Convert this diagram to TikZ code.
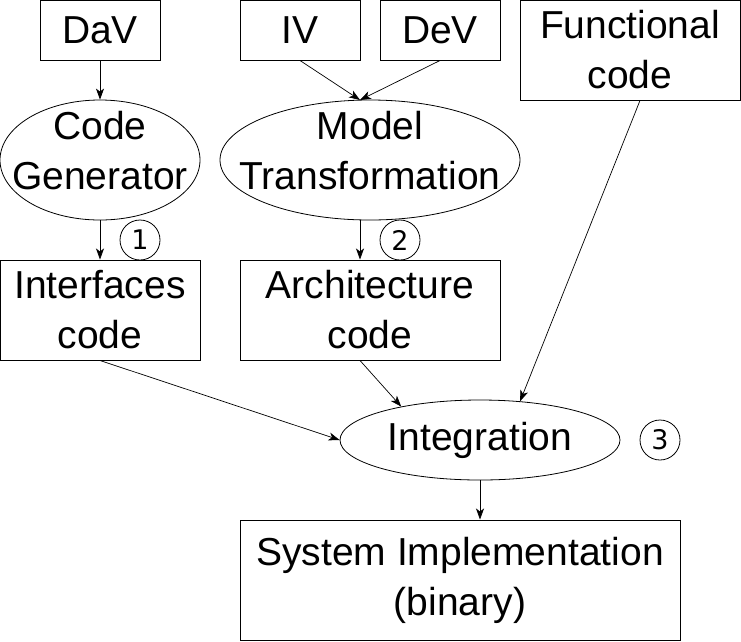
\documentclass[tikz,border=0pt]{standalone}
\usepackage{fontspec}
\setmainfont{Liberation Sans}
\newfontfamily\numfont{DejaVu Sans}
\usetikzlibrary{shapes.geometric,arrows.meta}
\begin{document}
\begin{tikzpicture}[x=1pt,y=-1pt,
  every node/.style={font=\fontsize{39}{50}\selectfont, align=center},
  box/.style={draw, line width=1pt, inner sep=0pt, minimum width=#1},
  ell/.style={draw, ellipse, line width=0.8pt, inner sep=0pt},
  num/.style={draw, circle, line width=0.8pt, inner sep=0pt, minimum size=40pt, font=\numfont\fontsize{27}{27}\selectfont},
  arr/.style={-{Stealth[length=11pt,width=8pt,inset=3pt]}, line width=0.7pt}]
\useasboundingbox (0,0) rectangle (741,641);
% top row
\node[box=120pt, minimum height=60pt] (dav) at (100,30) {DaV};
\node[box=120pt, minimum height=60pt] (iv) at (300,30) {IV};
\node[box=120pt, minimum height=60pt] (dev) at (440,30) {DeV};
\node[box=220pt, minimum height=100pt] (fc) at (630,50) {Functional\\code};
% ellipses
\node[ell, minimum width=200pt, minimum height=120pt] (cg) at (100,160) {};
\node (cgt) at ([yshift=9pt]cg.center) {Code\\Generator};
\node[ell, minimum width=300pt, minimum height=120pt] (mt) at (370,160) {};
\node (mtt) at ([yshift=9pt]mt.center) {Model\\Transformation};
\coordinate (mtin) at (360,100);
% numbers
\node[num] (n1) at (140,240) {1};
\node[num] (n2) at (400,240) {2};
\node[num] (n3) at (660,440) {3};
% middle boxes
\node[box=200pt, minimum height=100pt] (ifc) at (100,310) {Interfaces\\code};
\node[box=260pt, minimum height=100pt] (arch) at (370,310) {Architecture\\code};
% integration
\node[ell, minimum width=280pt, minimum height=80pt] (int) at (480,440) {};
\node (intt) at (int.center) {Integration};
% system
\node[box=440pt, minimum height=120pt] (si) at (460,580) {System Implementation\\(binary)};
% arrows
\draw[arr] (dav.south) -- (cg.north);
\draw[arr] (iv.south) -- (mtin);
\draw[arr] (dev.south) -- (mtin);
\draw[arr] (cg.south) -- (ifc.north);
\draw[arr] ([xshift=-10pt]mt.south) -- ([xshift=-10pt]arch.north);
\draw[arr] (ifc.south) -- (int.west);
\draw[arr] ([xshift=-10pt]arch.south) -- (int.157);
\draw[arr] ([xshift=10pt]fc.south) -- (int.44);
\draw[arr] (int.south) -- (int.south |- si.north);
\end{tikzpicture}
\end{document}
